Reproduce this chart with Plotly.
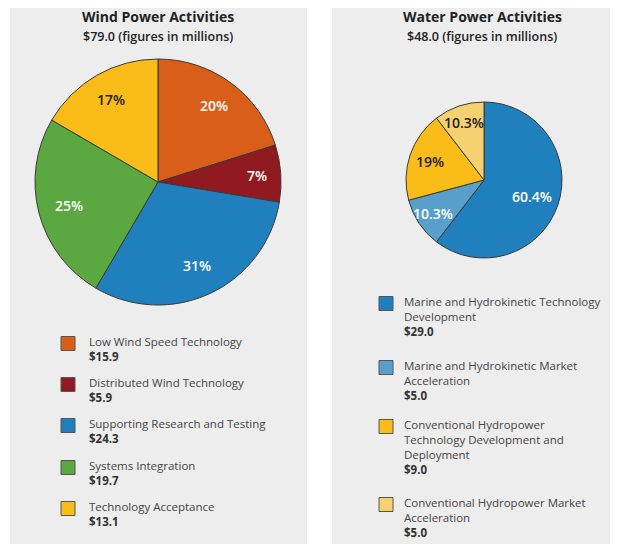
import math
import plotly.graph_objects as go

# page offset of the plot div inside the browser window (default body margin)
OFF = 8
W, H = 618 - OFF, 544 - OFF

# ---------------- data ----------------
wind_title = "Wind Power Activities"
wind_subtitle = "$79.0 (figures in millions)"
wind_names = [
    ["Low Wind Speed Technology"],
    ["Distributed Wind Technology"],
    ["Supporting Research and Testing"],
    ["Systems Integration"],
    ["Technology Acceptance"],
]
wind_values = [15.9, 5.9, 24.3, 19.7, 13.1]
wind_pct = ["20%", "7%", "31%", "25%", "17%"]
wind_colors = ["#d85e1a", "#901a1f", "#2080bd", "#5aa83f", "#f9bc18"]
wind_textcolors = ["white", "white", "white", "white", "#222222"]
wind_label_r = [0.77, 0.81, 0.75, 0.75, 0.77]

water_title = "Water Power Activities"
water_subtitle = "$48.0 (figures in millions)"
water_names = [
    ["Marine and Hydrokinetic Technology", "Development"],
    ["Marine and Hydrokinetic Market", "Acceleration"],
    ["Conventional Hydropower", "Technology Development and", "Deployment"],
    ["Conventional Hydropower Market", "Acceleration"],
]
water_values = [29.0, 5.0, 9.0, 5.0]
water_pct = ["60.4%", "10.3%", "19%", "10.3%"]
water_colors = ["#2080bd", "#58a0cb", "#f9bc18", "#f5d170"]
water_textcolors = ["white", "white", "#222222", "#222222"]
water_label_r = [0.65, 0.78, 0.73, 0.78]

FONT = "Open Sans"


def px(x):
    return (x - OFF) / W


def py(y):
    return 1 - (y - OFF) / H


fig = go.Figure()
shapes = []
annotations = []


def add_pie(values, text, colors, tcolors, rfrac, cx, cy, r):
    fig.add_trace(go.Pie(
        values=values,
        textinfo="none",
        sort=False,
        direction="clockwise",
        rotation=0,
        marker=dict(colors=colors, line=dict(color="#3a3a3a", width=1)),
        domain=dict(x=[px(cx - r), px(cx + r)], y=[py(cy + r), py(cy - r)]),
        showlegend=False,
        hoverinfo="skip",
    ))
    total = sum(values)
    cum = 0.0
    for v, t, tc, f in zip(values, text, tcolors, rfrac):
        mid = (cum + v / 2) / total * 2 * math.pi
        cum += v
        lx = cx + f * r * math.sin(mid)
        ly = cy - f * r * math.cos(mid)
        annotations.append(dict(x=px(lx), y=py(ly), xref="paper", yref="paper",
                                xanchor="center", yanchor="middle", text=t, showarrow=False,
                                font=dict(family=FONT, size=14, color=tc, weight=600)))


add_pie(wind_values, wind_pct, wind_colors, wind_textcolors, wind_label_r, 158, 182, 123)
add_pie(water_values, water_pct, water_colors, water_textcolors, water_label_r, 484, 180, 78)

# panel backgrounds
for x0, x1 in [(10, 307), (332, 618)]:
    shapes.append(dict(type="rect", xref="paper", yref="paper",
                       x0=px(x0), x1=px(x1), y0=py(544), y1=py(2),
                       fillcolor="#ededed", line=dict(width=0), layer="below"))

# titles
for cx, t, s in [(158, wind_title, wind_subtitle), (482, water_title, water_subtitle)]:
    annotations.append(dict(x=px(cx), y=py(17), xref="paper", yref="paper",
                            xanchor="center", yanchor="middle",
                            text=f"<b>{t}</b>", showarrow=False,
                            font=dict(family=FONT, size=14, color="#222222")))
    annotations.append(dict(x=px(cx), y=py(36), xref="paper", yref="paper",
                            xanchor="center", yanchor="middle",
                            text=s, showarrow=False,
                            font=dict(family=FONT, size=12.5, color="#222222", weight=600)))


def add_legend(names, values, colors, sq_x, tx_x, y_starts, line):
    for names_i, v, c, y0 in zip(names, values, colors, y_starts):
        shapes.append(dict(type="rect", xref="paper", yref="paper",
                           x0=px(sq_x), x1=px(sq_x + 14),
                           y0=py(y0 + 2.5 + 7), y1=py(y0 + 2.5 - 7),
                           fillcolor=c, line=dict(color="#555555", width=1)))
        lines = list(names_i)
        for k, ln in enumerate(lines):
            annotations.append(dict(x=px(tx_x), y=py(y0 + k * line), xref="paper", yref="paper",
                                    xanchor="left", yanchor="middle", text=ln, showarrow=False,
                                    font=dict(family=FONT, size=11.5, color="#444444")))
        annotations.append(dict(x=px(tx_x), y=py(y0 + len(lines) * line), xref="paper", yref="paper",
                                xanchor="left", yanchor="middle", text=f"<b>${v:.1f}</b>",
                                showarrow=False,
                                font=dict(family=FONT, size=11.5, color="#333333")))


wind_starts = [341, 382, 423, 465, 506]
add_legend(wind_names, wind_values, wind_colors, 61, 87, wind_starts, 15.0)

water_starts = [301, 365, 424, 502]
add_legend(water_names, water_values, water_colors, 379, 402, water_starts, 15.3)

fig.update_layout(
    width=W, height=H,
    margin=dict(l=0, r=0, t=0, b=0),
    paper_bgcolor="white",
    plot_bgcolor="white",
    shapes=shapes,
    annotations=annotations,
)

fig.write_html("out.html")
